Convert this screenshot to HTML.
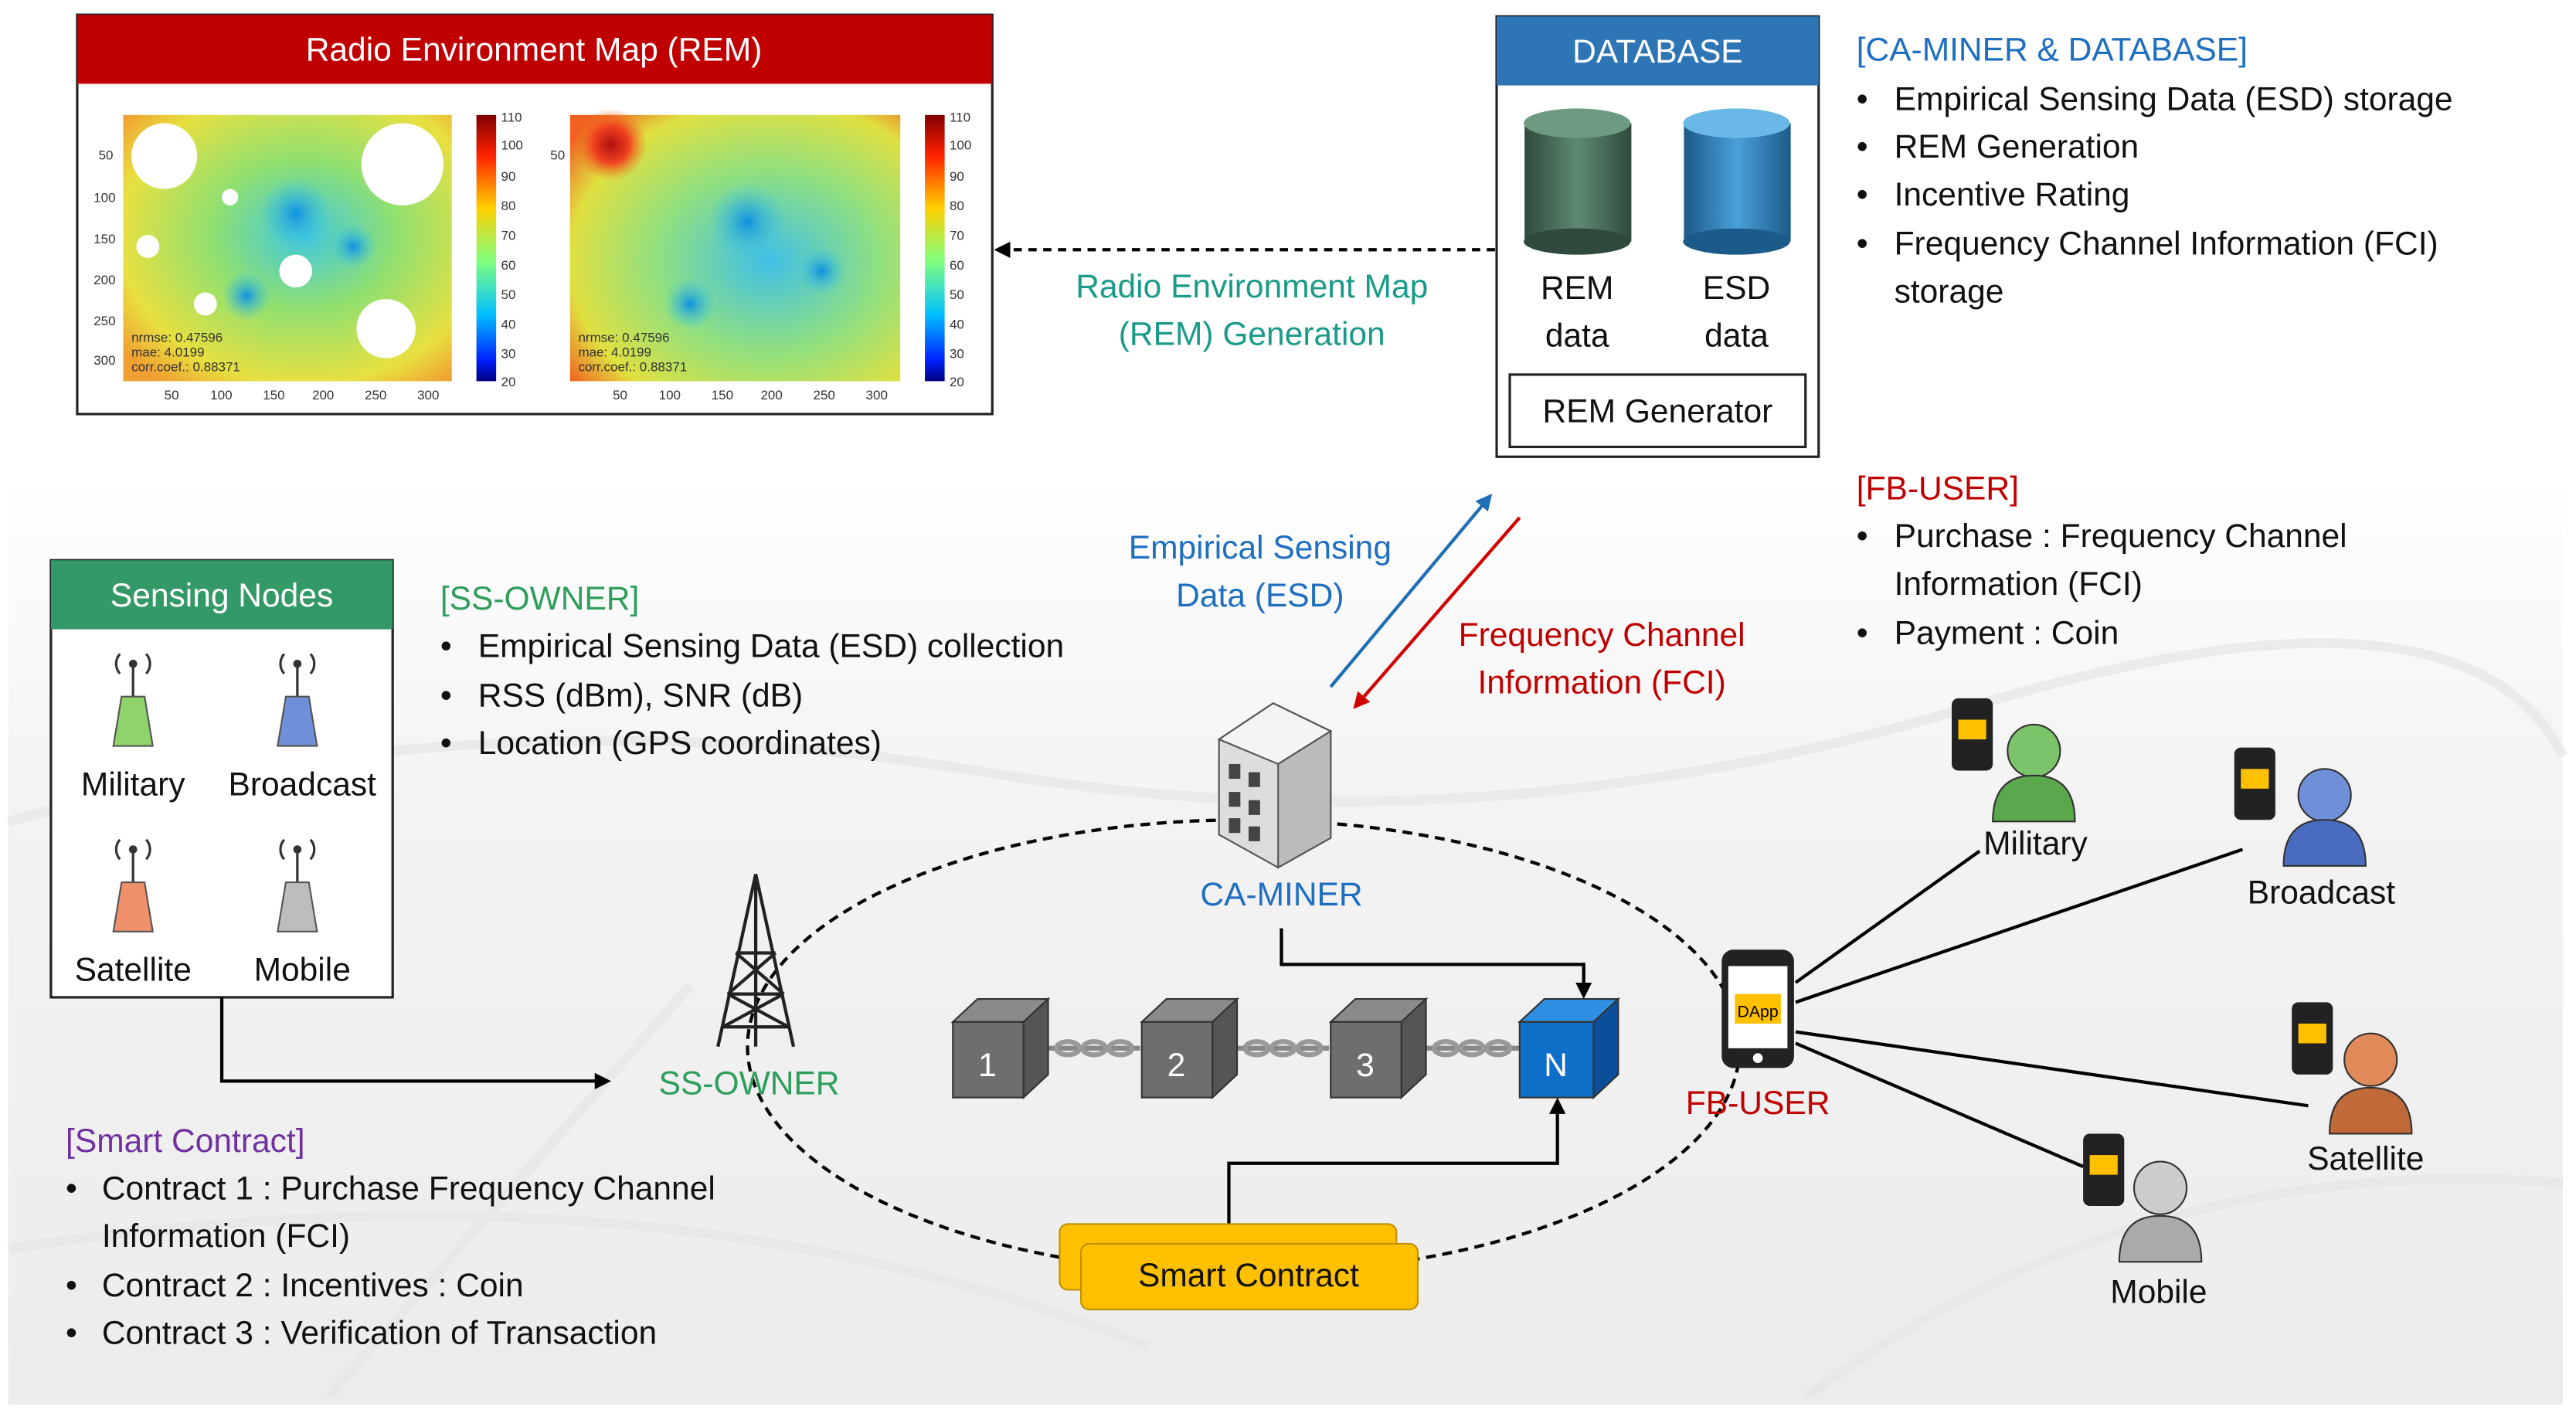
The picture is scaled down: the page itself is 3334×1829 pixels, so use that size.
<!DOCTYPE html>
<html><head><meta charset="utf-8"><style>
html,body{margin:0;padding:0;background:#fff}
svg{display:block}
text{font-family:"Liberation Sans",sans-serif}
</style></head><body>
<svg width="3334" height="1829" viewBox="0 0 1568 860" preserveAspectRatio="none" xmlns="http://www.w3.org/2000/svg">
<defs>
<linearGradient id="bg" x1="0" y1="0" x2="0" y2="1">
<stop offset="0" stop-color="#fff"/><stop offset="0.35" stop-color="#f3f3f3"/><stop offset="1" stop-color="#ececec"/></linearGradient>
<linearGradient id="cb" x1="0" y1="0" x2="0" y2="1">
<stop offset="0" stop-color="#800000"/><stop offset="0.15" stop-color="#ff2000"/><stop offset="0.35" stop-color="#ffd000"/><stop offset="0.55" stop-color="#80ff80"/><stop offset="0.75" stop-color="#00c0ff"/><stop offset="0.92" stop-color="#0020ff"/><stop offset="1" stop-color="#000080"/></linearGradient>
<radialGradient id="hm1" cx="0.55" cy="0.45" r="0.7">
<stop offset="0" stop-color="#40c8e0"/><stop offset="0.4" stop-color="#90e070"/><stop offset="0.8" stop-color="#e8e040"/><stop offset="1" stop-color="#f0a030"/></radialGradient>
<radialGradient id="hm2" cx="0.6" cy="0.55" r="0.75">
<stop offset="0" stop-color="#40c0e8"/><stop offset="0.45" stop-color="#90e080"/><stop offset="0.8" stop-color="#e0e040"/><stop offset="1" stop-color="#f06020"/></radialGradient>
<radialGradient id="blob"><stop offset="0" stop-color="#1090e0"/><stop offset="1" stop-color="#40c8e0" stop-opacity="0"/></radialGradient>
<radialGradient id="hot"><stop offset="0" stop-color="#b01010"/><stop offset="0.5" stop-color="#f04020"/><stop offset="1" stop-color="#f08020" stop-opacity="0"/></radialGradient>
<linearGradient id="cylG" x1="0" x2="1"><stop offset="0" stop-color="#2f4a3c"/><stop offset="0.5" stop-color="#5e8a72"/><stop offset="1" stop-color="#2f4a3c"/></linearGradient>
<linearGradient id="cylB" x1="0" x2="1"><stop offset="0" stop-color="#1c5a8a"/><stop offset="0.5" stop-color="#4aa0d8"/><stop offset="1" stop-color="#1c5a8a"/></linearGradient>
<marker id="ak" markerWidth="10" markerHeight="10" refX="8" refY="5" orient="auto" markerUnits="userSpaceOnUse"><path d="M0,0 L10,5 L0,10 z" fill="#000"/></marker>
<marker id="ab" markerWidth="10" markerHeight="10" refX="8" refY="5" orient="auto" markerUnits="userSpaceOnUse"><path d="M0,0 L10,5 L0,10 z" fill="#1f6fb5"/></marker>
<marker id="ar" markerWidth="10" markerHeight="10" refX="8" refY="5" orient="auto" markerUnits="userSpaceOnUse"><path d="M0,0 L10,5 L0,10 z" fill="#d00000"/></marker>
</defs>
<rect x="0" y="0" width="1568" height="860" fill="#fff"/>
<rect x="5" y="290" width="1555" height="565" fill="url(#bg)"/>
<g stroke="#e6e6e6" stroke-width="6" fill="none" opacity="0.7">
<path d="M5 500 Q300 420 600 470 T1200 430 T1560 460"/>
<path d="M5 760 Q400 700 700 820"/>
<path d="M1100 850 Q1300 700 1560 720"/>
<path d="M200 850 L420 600"/>
</g>

<!-- REM -->
<rect x="47" y="9" width="557" height="243" fill="#fff" stroke="#222" stroke-width="1.5"/>
<rect x="47" y="9" width="557" height="42" fill="#c00000"/>
<text x="325" y="37" font-size="20" fill="#fff" text-anchor="middle">Radio Environment Map (REM)</text>
<rect x="75" y="70" width="200" height="162" fill="url(#hm1)"/>
<g fill="url(#blob)"><circle cx="180" cy="130" r="22"/><circle cx="150" cy="180" r="15"/><circle cx="215" cy="150" r="14"/></g>
<g fill="#fff"><circle cx="100" cy="95" r="20"/><circle cx="245" cy="100" r="25"/><circle cx="235" cy="200" r="18"/><circle cx="180" cy="165" r="10"/><circle cx="90" cy="150" r="7"/><circle cx="125" cy="185" r="7"/><circle cx="140" cy="120" r="5"/></g>
<rect x="290" y="70" width="12" height="162" fill="url(#cb)"/>
<rect x="347" y="70" width="201" height="162" fill="url(#hm2)"/>
<g fill="url(#blob)"><circle cx="455" cy="135" r="24"/><circle cx="420" cy="185" r="16"/><circle cx="500" cy="165" r="15"/></g>
<circle cx="372" cy="88" r="22" fill="url(#hot)"/>
<rect x="563" y="70" width="12" height="162" fill="url(#cb)"/>
<g font-size="8" fill="#333">
<text x="80" y="208">nrmse: 0.47596</text><text x="80" y="217">mae: 4.0199</text><text x="80" y="226">corr.coef.: 0.88371</text>
<text x="352" y="208">nrmse: 0.47596</text><text x="352" y="217">mae: 4.0199</text><text x="352" y="226">corr.coef.: 0.88371</text>
<text x="100" y="243">50</text><text x="128" y="243">100</text><text x="160" y="243">150</text><text x="190" y="243">200</text><text x="222" y="243">250</text><text x="254" y="243">300</text>
<text x="373" y="243">50</text><text x="401" y="243">100</text><text x="433" y="243">150</text><text x="463" y="243">200</text><text x="495" y="243">250</text><text x="527" y="243">300</text>
<text x="60" y="97">50</text><text x="57" y="123">100</text><text x="57" y="148">150</text><text x="57" y="173">200</text><text x="57" y="198">250</text><text x="57" y="222">300</text>
<text x="335" y="97">50</text>
<text x="305" y="74">110</text><text x="305" y="91">100</text><text x="305" y="110">90</text><text x="305" y="128">80</text><text x="305" y="146">70</text><text x="305" y="164">60</text><text x="305" y="182">50</text><text x="305" y="200">40</text><text x="305" y="218">30</text><text x="305" y="235">20</text>
<text x="578" y="74">110</text><text x="578" y="91">100</text><text x="578" y="110">90</text><text x="578" y="128">80</text><text x="578" y="146">70</text><text x="578" y="164">60</text><text x="578" y="182">50</text><text x="578" y="200">40</text><text x="578" y="218">30</text><text x="578" y="235">20</text>
</g>

<line x1="910" y1="152" x2="607" y2="152" stroke="#000" stroke-width="2" stroke-dasharray="5,4" marker-end="url(#ak)"/>
<g font-size="20" fill="#1a9a8a" text-anchor="middle"><text x="762" y="181">Radio Environment Map</text><text x="762" y="210">(REM) Generation</text></g>

<!-- DATABASE -->
<rect x="911" y="10" width="196" height="268" fill="#fff" stroke="#222" stroke-width="1.5"/>
<rect x="911" y="10" width="196" height="42" fill="#2e75b6"/>
<text x="1009" y="38" font-size="20" fill="#fff" text-anchor="middle">DATABASE</text>
<rect x="928" y="75" width="65" height="72" fill="url(#cylG)"/><ellipse cx="960" cy="147" rx="32.5" ry="8" fill="#2f4a3c"/><ellipse cx="960" cy="75" rx="32.5" ry="9" fill="#6e9a82"/>
<rect x="1025" y="75" width="65" height="72" fill="url(#cylB)"/><ellipse cx="1057" cy="147" rx="32.5" ry="8" fill="#1c5a8a"/><ellipse cx="1057" cy="75" rx="32.5" ry="9" fill="#6ab8e8"/>
<g font-size="20" fill="#111" text-anchor="middle"><text x="960" y="182">REM</text><text x="960" y="211">data</text><text x="1057" y="182">ESD</text><text x="1057" y="211">data</text></g>
<rect x="919" y="228" width="180" height="44" fill="#fff" stroke="#222" stroke-width="1.5"/>
<text x="1009" y="257" font-size="20" fill="#111" text-anchor="middle">REM Generator</text>

<g font-size="20" fill="#111">
<text x="1130" y="37" fill="#1f6fc0">[CA-MINER &amp; DATABASE]</text>
<text x="1130" y="67">•</text><text x="1153" y="67">Empirical Sensing Data (ESD) storage</text>
<text x="1130" y="96">•</text><text x="1153" y="96">REM Generation</text>
<text x="1130" y="125">•</text><text x="1153" y="125">Incentive Rating</text>
<text x="1130" y="155">•</text><text x="1153" y="155">Frequency Channel Information (FCI)</text>
<text x="1153" y="184">storage</text>
<text x="1130" y="304" fill="#c00000">[FB-USER]</text>
<text x="1130" y="333">•</text><text x="1153" y="333">Purchase : Frequency Channel</text>
<text x="1153" y="362">Information (FCI)</text>
<text x="1130" y="392">•</text><text x="1153" y="392">Payment : Coin</text>
</g>

<line x1="810" y1="418" x2="907" y2="302" stroke="#1f6fb5" stroke-width="2" marker-end="url(#ab)"/>
<line x1="925" y1="315" x2="825" y2="430" stroke="#d00000" stroke-width="2" marker-end="url(#ar)"/>
<g font-size="20" text-anchor="middle"><text x="767" y="340" fill="#1f6fc0">Empirical Sensing</text><text x="767" y="369" fill="#1f6fc0">Data (ESD)</text>
<text x="975" y="393" fill="#c00000">Frequency Channel</text><text x="975" y="422" fill="#c00000">Information (FCI)</text></g>

<!-- Sensing nodes -->
<rect x="31" y="341" width="208" height="266" fill="#fff" stroke="#222" stroke-width="1.5"/>
<rect x="31" y="341" width="208" height="42" fill="#339966"/>
<text x="135" y="369" font-size="20" fill="#fff" text-anchor="middle">Sensing Nodes</text>
<g stroke="#333" stroke-width="1.5" fill="none">
<path d="M73 398 a9 9 0 0 0 0 12 M89 398 a9 9 0 0 1 0 12 M173 398 a9 9 0 0 0 0 12 M189 398 a9 9 0 0 1 0 12 M73 511 a9 9 0 0 0 0 12 M89 511 a9 9 0 0 1 0 12 M173 511 a9 9 0 0 0 0 12 M189 511 a9 9 0 0 1 0 12"/>
<path d="M81 404 v20 M181 404 v20 M81 517 v20 M181 517 v20"/>
</g>
<g fill="#333"><circle cx="81" cy="404" r="2.5"/><circle cx="181" cy="404" r="2.5"/><circle cx="81" cy="517" r="2.5"/><circle cx="181" cy="517" r="2.5"/></g>
<g stroke="#555" stroke-width="1">
<path d="M74 424 h14 l5 30 h-24 z" fill="#8fd46a"/><path d="M174 424 h14 l5 30 h-24 z" fill="#6f8fd8"/>
<path d="M74 537 h14 l5 30 h-24 z" fill="#f0906a"/><path d="M174 537 h14 l5 30 h-24 z" fill="#bdbdbd"/>
</g>
<g font-size="20" fill="#111" text-anchor="middle"><text x="81" y="484">Military</text><text x="184" y="484">Broadcast</text><text x="81" y="597">Satellite</text><text x="184" y="597">Mobile</text></g>

<g font-size="20" fill="#111">
<text x="268" y="371" fill="#2e9e5a">[SS-OWNER]</text>
<text x="268" y="400">•</text><text x="291" y="400">Empirical Sensing Data (ESD) collection</text>
<text x="268" y="430">•</text><text x="291" y="430">RSS (dBm), SNR (dB)</text>
<text x="268" y="459">•</text><text x="291" y="459">Location (GPS coordinates)</text>
<text x="40" y="701" fill="#7030a0">[Smart Contract]</text>
<text x="40" y="730">•</text><text x="62" y="730">Contract 1 : Purchase Frequency Channel</text>
<text x="62" y="759">Information (FCI)</text>
<text x="40" y="789">•</text><text x="62" y="789">Contract 2 : Incentives : Coin</text>
<text x="40" y="818">•</text><text x="62" y="818">Contract 3 : Verification of Transaction</text>
</g>

<polyline points="135,607 135,658 370,658" fill="none" stroke="#000" stroke-width="2" marker-end="url(#ak)"/>

<ellipse cx="757" cy="637" rx="302" ry="138" fill="none" stroke="#000" stroke-width="2" stroke-dasharray="6,4"/>

<g stroke="#222" stroke-width="2" fill="none">
<path d="M460 532 L437 637 M460 532 L483 637 M460 532 v105 M448 580 h24 M443 605 h34 M440 625 h40 M448 580 L477 605 M472 580 L443 605 M443 605 L480 625 M477 605 L440 625"/>
</g>
<text x="456" y="666" font-size="20" fill="#2e9e5a" text-anchor="middle">SS-OWNER</text>

<path d="M742 450 L775 428 L810 445 L810 510 L778 528 L742 508 z" fill="#ddd" stroke="#555"/>
<path d="M742 450 L775 428 L810 445 L778 465 z" fill="#f4f4f4" stroke="#555"/>
<path d="M778 465 L810 445 L810 510 L778 528 z" fill="#bbb" stroke="#555"/>
<g fill="#444"><rect x="748" y="465" width="7" height="9"/><rect x="760" y="470" width="7" height="9"/><rect x="748" y="482" width="7" height="9"/><rect x="760" y="487" width="7" height="9"/><rect x="748" y="498" width="7" height="9"/><rect x="760" y="503" width="7" height="9"/></g>
<text x="780" y="551" font-size="20" fill="#1f6fc0" text-anchor="middle">CA-MINER</text>
<polyline points="780,565 780,587 964,587 964,606" fill="none" stroke="#000" stroke-width="2" marker-end="url(#ak)"/>

<g stroke="#888" stroke-width="3" fill="none">
<line x1="638" y1="638" x2="694" y2="638"/><line x1="753" y1="638" x2="809" y2="638"/><line x1="868" y1="638" x2="925" y2="638"/>
</g>
<g fill="none" stroke="#999" stroke-width="3"><ellipse cx="650" cy="638" rx="7" ry="4"/><ellipse cx="666" cy="638" rx="7" ry="4"/><ellipse cx="682" cy="638" rx="7" ry="4"/>
<ellipse cx="765" cy="638" rx="7" ry="4"/><ellipse cx="781" cy="638" rx="7" ry="4"/><ellipse cx="797" cy="638" rx="7" ry="4"/>
<ellipse cx="880" cy="638" rx="7" ry="4"/><ellipse cx="896" cy="638" rx="7" ry="4"/><ellipse cx="912" cy="638" rx="7" ry="4"/></g>
<g stroke="#333" stroke-width="1">
<path d="M580 622 L595 608 L638 608 L623 622 z" fill="#8a8a8a"/><path d="M623 622 L638 608 L638 654 L623 668 z" fill="#555"/><rect x="580" y="622" width="43" height="46" fill="#6e6e6e"/>
<path d="M695 622 L710 608 L753 608 L738 622 z" fill="#8a8a8a"/><path d="M738 622 L753 608 L753 654 L738 668 z" fill="#555"/><rect x="695" y="622" width="43" height="46" fill="#6e6e6e"/>
<path d="M810 622 L825 608 L868 608 L853 622 z" fill="#8a8a8a"/><path d="M853 622 L868 608 L868 654 L853 668 z" fill="#555"/><rect x="810" y="622" width="43" height="46" fill="#6e6e6e"/>
<path d="M925 622 L940 608 L985 608 L970 622 z" fill="#2f8fe0"/><path d="M970 622 L985 608 L985 654 L970 668 z" fill="#0a4f9a"/><rect x="925" y="622" width="45" height="46" fill="#0e6fc8"/>
</g>
<g font-size="20" fill="#fff" text-anchor="middle"><text x="601" y="655">1</text><text x="716" y="655">2</text><text x="831" y="655">3</text><text x="947" y="655">N</text></g>
<polyline points="748,745 748,708 948,708 948,670" fill="none" stroke="#000" stroke-width="2" marker-end="url(#ak)"/>

<rect x="645" y="745" width="205" height="40" rx="5" fill="#ffc000" stroke="#c09000"/>
<rect x="658" y="757" width="205" height="40" rx="5" fill="#ffc000" stroke="#c09000"/>
<text x="760" y="783" font-size="20" fill="#111" text-anchor="middle">Smart Contract</text>

<g stroke="#000" stroke-width="2">
<line x1="1093" y1="598" x2="1205" y2="518"/><line x1="1093" y1="610" x2="1365" y2="517"/>
<line x1="1093" y1="628" x2="1405" y2="673"/><line x1="1093" y1="635" x2="1268" y2="710"/>
</g>
<rect x="1048" y="578" width="44" height="72" rx="7" fill="#222"/>
<rect x="1052" y="588" width="36" height="50" fill="#fff"/>
<rect x="1056" y="605" width="28" height="18" fill="#ffc000"/>
<text x="1070" y="619" font-size="10" fill="#000" text-anchor="middle">DApp</text>
<circle cx="1070" cy="644" r="3" fill="#fff"/>
<text x="1070" y="678" font-size="20" fill="#c00000" text-anchor="middle">FB-USER</text>

<g stroke="#333" stroke-width="1">
<circle cx="1238" cy="457" r="16" fill="#7cc46a"/><path d="M1213 500 q0 -28 25 -28 q25 0 25 28 z" fill="#5aa84c"/>
<circle cx="1415" cy="484" r="16" fill="#6f8fd8"/><path d="M1390 527 q0 -28 25 -28 q25 0 25 28 z" fill="#4a6cc0"/>
<circle cx="1443" cy="645" r="16" fill="#e08a5a"/><path d="M1418 690 q0 -28 25 -28 q25 0 25 28 z" fill="#c06a3a"/>
<circle cx="1315" cy="723" r="16" fill="#ccc"/><path d="M1290 768 q0 -28 25 -28 q25 0 25 28 z" fill="#aaa"/>
</g>
<g fill="#222">
<rect x="1188" y="425" width="25" height="44" rx="4"/><rect x="1360" y="455" width="25" height="44" rx="4"/>
<rect x="1395" y="610" width="25" height="44" rx="4"/><rect x="1268" y="690" width="25" height="44" rx="4"/>
</g>
<g fill="#ffc000"><rect x="1192" y="438" width="17" height="12"/><rect x="1364" y="468" width="17" height="12"/><rect x="1399" y="623" width="17" height="12"/><rect x="1272" y="703" width="17" height="12"/></g>
<g font-size="20" fill="#111" text-anchor="middle"><text x="1239" y="520">Military</text><text x="1413" y="550">Broadcast</text><text x="1440" y="712">Satellite</text><text x="1314" y="793">Mobile</text></g>
</svg>
</body></html>
